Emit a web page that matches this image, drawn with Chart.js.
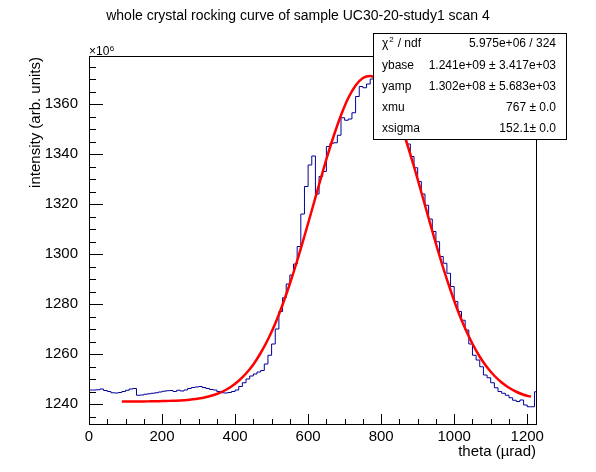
<!DOCTYPE html>
<html>
<head>
<meta charset="utf-8">
<script src="https://cdn.jsdelivr.net/npm/chart.js@4.4.0/dist/chart.umd.min.js"></script>
<style>
  html, body { margin: 0; padding: 0; background: #fff; }
</style>
</head>
<body>
<canvas id="rocking" width="596" height="472"></canvas>
<script>
// histogram, 10 urad bins starting at theta = 0 (values in units of 1e6)
const binWidth = 10;
const histEnd = 1224;
const counts = [
  1245.6, 1245.6, 1245.7, 1246.0, 1245.4, 1245.0, 1244.5, 1244.4, 1244.6, 1245.0,
  1245.5, 1246.0, 1246.2, 1243.5, 1243.6, 1243.9, 1244.1, 1244.3, 1244.5, 1244.8,
  1245.1, 1245.3, 1245.4, 1245.0, 1245.5, 1245.2, 1245.6, 1246.2, 1246.6, 1246.8,
  1247.0, 1246.6, 1246.2, 1245.8, 1245.6, 1245.0, 1244.5, 1244.4, 1244.6, 1245.0,
  1245.6, 1247.0, 1248.5, 1250.0, 1251.2, 1252.0, 1252.8, 1253.4, 1256.0, 1259.5,
  1264.0, 1270.0, 1277.0, 1282.5, 1288.0, 1291.6, 1296.0, 1303.0, 1316.0, 1327.0,
  1335.6, 1339.2, 1324.0, 1331.0, 1333.0, 1343.0, 1344.3, 1344.5, 1347.5, 1354.5,
  1353.5, 1354.0, 1356.5, 1363.0, 1367.0, 1366.5, 1368.0, 1370.0, 1371.0, 1370.5,
  1368.5, 1366.5, 1362.5, 1359.0, 1355.0, 1351.0, 1348.0, 1344.0, 1339.0, 1334.5,
  1329.0, 1324.0, 1319.5, 1314.0, 1309.0, 1304.9, 1299.0, 1296.3, 1292.3, 1287.0,
  1281.0, 1277.0, 1273.5, 1269.6, 1264.0, 1259.5, 1257.6, 1254.9, 1251.6, 1250.5,
  1248.5, 1246.5, 1245.0, 1244.3, 1243.5, 1242.5, 1241.5, 1241.0, 1241.6, 1239.6,
  1238.9, 1238.9, 1244.9
];

// fitted curve
const fitTheta = [
  90, 110, 130, 150, 170, 190, 210, 230, 250, 270,
  290, 310, 330, 350, 370, 390, 410, 430, 450, 470,
  490, 510, 530, 550, 570, 590, 610, 630, 650, 670,
  690, 710, 730, 750, 770, 790, 810, 830, 850, 870,
  890, 910, 930, 950, 970, 990, 1010, 1030, 1050, 1070,
  1090, 1110, 1130, 1150, 1170, 1190, 1210
];
const fitValues = [
  1241.0, 1241.0, 1241.0, 1241.0, 1241.1, 1241.1, 1241.2, 1241.3, 1241.4, 1241.6,
  1242.0, 1242.4, 1243.1, 1244.0, 1245.3, 1247.0, 1249.3, 1252.2, 1255.8, 1260.4,
  1265.8, 1272.2, 1279.7, 1288.1, 1297.3, 1307.2, 1317.4, 1327.8, 1337.9, 1347.2,
  1355.5, 1362.4, 1367.4, 1370.4, 1371.2, 1369.7, 1366.1, 1360.5, 1353.2, 1344.5,
  1334.9, 1324.7, 1314.3, 1304.1, 1294.4, 1285.5, 1277.3, 1270.2, 1264.1, 1258.9,
  1254.7, 1251.3, 1248.6, 1246.5, 1244.9, 1243.7, 1242.9
];

const xTickLabels = [0, 200, 400, 600, 800, 1000, 1200];
const yTickLabels = [1240, 1260, 1280, 1300, 1320, 1340, 1360];

const statNames = ['χ2 / ndf', 'ybase', 'yamp', 'xmu', 'xsigma'];
const statValues = ['5.975e+06 / 324', '1.241e+09 ± 3.417e+03', '1.302e+08 ± 5.683e+03', '767 ± 0.0', '152.1± 0.0'];

const FONT = "'Liberation Sans', Arial, Helvetica, sans-serif";

const histPoints = counts.map((v, i) => ({ x: i * binWidth, y: v }));
histPoints.push({ x: histEnd, y: counts[counts.length - 1] });
const fitPoints = fitTheta.map((t, i) => ({ x: t, y: fitValues[i] }));

// ROOT style frame, inward ticks, labels and stats box
const rootStyle = {
    id: 'rootStyle',
    afterDraw(chart) {
        const ctx = chart.ctx;
        const a = chart.chartArea;
        const xs = chart.scales.x;
        const ys = chart.scales.y;
        ctx.save();
        ctx.strokeStyle = '#000';
        ctx.lineWidth = 1;

        // ticks
        ctx.beginPath();
        xs.ticks.forEach(t => {
            if (t.value % 50 !== 0) return;
            const px = Math.round(xs.getPixelForValue(t.value)) + 0.5;
            const len = xTickLabels.includes(t.value) ? 10 : 5;
            ctx.moveTo(px, a.bottom);
            ctx.lineTo(px, a.bottom - len);
        });
        ys.ticks.forEach(t => {
            if (t.value % 5 !== 0) return;
            const py = Math.round(ys.getPixelForValue(t.value)) + 0.5;
            const len = yTickLabels.includes(t.value) ? 14 : 7;
            ctx.moveTo(a.left, py);
            ctx.lineTo(a.left + len, py);
        });
        ctx.stroke();

        // frame
        ctx.strokeRect(Math.round(a.left) + 0.5, Math.round(a.top) + 0.5,
            Math.round(a.right - a.left), Math.round(a.bottom - a.top));

        ctx.fillStyle = '#000';
        // title
        ctx.font = '14px ' + FONT;
        ctx.textAlign = 'center';
        ctx.textBaseline = 'alphabetic';
        ctx.fillText('whole crystal rocking curve of sample UC30-20-study1 scan 4', 298, 20);

        // exponent
        ctx.textAlign = 'left';
        ctx.font = '12px ' + FONT;
        ctx.fillText('×10', a.left, a.top - 1);
        const w = ctx.measureText('×10').width;
        ctx.font = '8px ' + FONT;
        ctx.fillText('6', a.left + w + 0.5, a.top - 5.5);

        // axis titles
        ctx.font = '15px ' + FONT;
        ctx.textAlign = 'right';
        ctx.fillText('theta (µrad)', a.right, 456);
        ctx.save();
        ctx.translate(40, a.top + 1);
        ctx.rotate(-Math.PI / 2);
        ctx.fillText('intensity (arb. units)', 0, 0);
        ctx.restore();

        // stats box
        const bx = 373.5, by = 33.5, bw = 193, bh = 106;
        ctx.fillStyle = '#fff';
        ctx.fillRect(bx, by, bw, bh);
        ctx.strokeRect(bx, by, bw, bh);
        ctx.fillStyle = '#000';
        ctx.font = '12px ' + FONT;
        ctx.textBaseline = 'middle';
        const rowH = bh / statNames.length;
        statNames.forEach((name, i) => {
            const y = by + rowH * (i + 0.5);
            ctx.textAlign = 'left';
            if (i === 0) {
                ctx.fillText('χ', 382, y);
                const cw = ctx.measureText('χ').width;
                ctx.font = '8px ' + FONT;
                ctx.fillText('2', 382 + cw + 1, y - 4);
                ctx.font = '12px ' + FONT;
                ctx.fillText(' / ndf', 382 + cw + 6, y);
            } else {
                ctx.fillText(name, 382, y);
            }
            ctx.textAlign = 'right';
            ctx.fillText(statValues[i], 556, y);
        });
        ctx.restore();
    }
};

new Chart(document.getElementById('rocking'), {
    type: 'line',
    data: {
        datasets: [
            {
                label: 'fit',
                data: fitPoints,
                borderColor: '#ff0000',
                borderWidth: 2.5,
                pointRadius: 0,
                cubicInterpolationMode: 'monotone',
                fill: false
            },
            {
                label: 'scan 4',
                data: histPoints,
                borderColor: '#000099',
                borderWidth: 1,
                pointRadius: 0,
                stepped: 'before',
                fill: false
            }
        ]
    },
    options: {
        responsive: false,
        animation: false,
        devicePixelRatio: 1,
        layout: { padding: { left: 0, top: 56, right: 60, bottom: 0 } },
        plugins: { legend: { display: false }, tooltip: { enabled: false }, title: { display: false } },
        scales: {
            x: {
                type: 'linear',
                min: 0,
                max: histEnd,
                afterFit: s => { s.height = 48; },
                grid: { display: false },
                border: { display: false },
                ticks: {
                    stepSize: 50,
                    includeBounds: false,
                    autoSkip: false,
                    maxRotation: 0,
                    padding: -4,
                    color: '#000',
                    font: { family: FONT, size: 15 },
                    callback: v => xTickLabels.includes(v) ? String(v) : ''
                }
            },
            y: {
                type: 'linear',
                min: 1232,
                max: 1379.2,
                afterFit: s => { s.width = 89; },
                grid: { display: false },
                border: { display: false },
                ticks: {
                    stepSize: 5,
                    includeBounds: false,
                    autoSkip: false,
                    padding: 3,
                    color: '#000',
                    font: { family: FONT, size: 15 },
                    callback: v => yTickLabels.includes(v) ? String(v) : ''
                }
            }
        }
    },
    plugins: [rootStyle]
});
</script>
</body>
</html>
